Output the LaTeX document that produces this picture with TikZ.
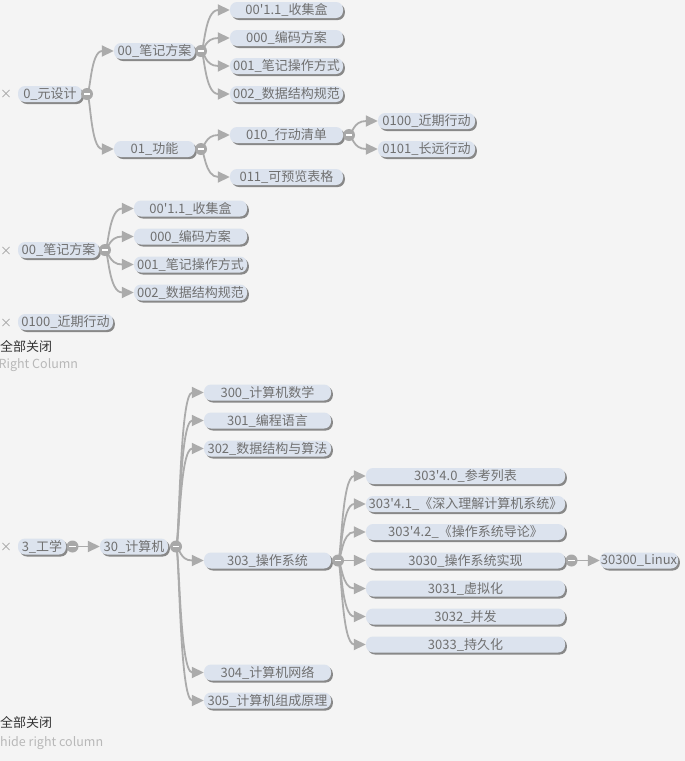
\documentclass[tikz,border=0pt]{standalone}
\usepackage{fontspec}
\setmainfont{Noto Sans CJK SC}
\usetikzlibrary{arrows.meta,shadows,calc}
\definecolor{bgc}{HTML}{F4F4F4}
\definecolor{boxc}{HTML}{DCE3EE}
\definecolor{shc}{HTML}{888888}
\definecolor{txc}{HTML}{707070}
\definecolor{lnc}{HTML}{ABABAB}
\definecolor{crc}{HTML}{A8A8A8}
\definecolor{xc}{HTML}{A0A0A0}
\definecolor{hc}{HTML}{333333}
\definecolor{lc}{HTML}{B8B8B8}
\newcommand\bx[5]{\node[topicbox, minimum width=#4pt] (#1) at (#2,#3) {#5};}
\newcommand\knob[1]{\node[knobc] at (#1) {}; \draw[white, line width=1.8pt] ($(#1)+(-3.2pt,0)$) -- ($(#1)+(3.2pt,0)$);}
\newcommand\cn[2]{\draw[connline] let \p1=(#1), \p2=(#2.west) in (\p1) .. controls (\x1+3.5pt,\y1) and (\x1+3.5pt,\y2) .. (\p2);}
\newcommand\q{\textquotesingle}
\begin{document}
\begin{tikzpicture}[x=1pt,y=-1pt,
  topicbox/.style={fill=boxc, rounded corners=7pt, minimum height=16pt, inner sep=0pt,
    text=txc, font=\fontsize{13}{15}\selectfont,
    drop shadow={shadow xshift=1.8pt, shadow yshift=-2pt, fill=shc, opacity=1}},
  connline/.style={draw=lnc, line width=1.8pt, -{Triangle[length=12pt,width=11pt]}},
  knobc/.style={circle, fill=crc, minimum size=12pt, inner sep=0pt},
  xmark/.style={text=xc, font=\fontsize{12}{14}\selectfont},
  head/.style={text=hc, font=\fontsize{13}{15}\selectfont, anchor=west, inner sep=0pt},
  sub/.style={text=lc, font=\fontsize{12.5}{15}\selectfont, anchor=west, inner sep=0pt}]
\useasboundingbox[fill=bgc] (0,0) rectangle (685,761);

% ---------- tree 1 ----------
\node[xmark] (x1) at (6,94) {×};
\bx{a0}{50}{94}{64}{0\_元设计}
\bx{a00}{154.5}{51}{81}{00\_笔记方案}
\bx{a01}{154.5}{149}{81}{01\_功能}
\bx{a001}{286.5}{10}{113}{00\q1.1\_收集盒}
\bx{a000}{286.5}{38}{113}{000\_编码方案}
\bx{a0011}{286.5}{66}{113}{001\_笔记操作方式}
\bx{a002}{286.5}{94}{113}{002\_数据结构规范}
\bx{a010}{286.5}{135}{113}{010\_行动清单}
\bx{a011}{286.5}{177}{113}{011\_可预览表格}
\bx{a0100}{426.5}{121}{97}{0100\_近期行动}
\bx{a0101}{426.5}{149}{97}{0101\_长远行动}
\coordinate (k0) at (87,94);
\coordinate (k00) at (201,51);
\coordinate (k01) at (201,149);
\coordinate (k010) at (349,135);
\cn{k0}{a00} \cn{k0}{a01}
\cn{k00}{a001} \cn{k00}{a000} \cn{k00}{a0011} \cn{k00}{a002}
\cn{k01}{a010} \cn{k01}{a011}
\cn{k010}{a0100} \cn{k010}{a0101}
\knob{k0} \knob{k00} \knob{k01} \knob{k010}

% ---------- tree 2 ----------
\node[xmark] (x2) at (6,251) {×};
\bx{b00}{58.5}{250}{81}{00\_笔记方案}
\bx{b001}{190.5}{208.5}{113}{00\q1.1\_收集盒}
\bx{b000}{190.5}{236.5}{113}{000\_编码方案}
\bx{b0011}{190.5}{264.5}{113}{001\_笔记操作方式}
\bx{b002}{190.5}{292.5}{113}{002\_数据结构规范}
\coordinate (k2) at (105,250);
\cn{k2}{b001} \cn{k2}{b000} \cn{k2}{b0011} \cn{k2}{b002}
\knob{k2}

% ---------- tree 3 ----------
\node[xmark] (x3) at (6,323) {×};
\bx{c0100}{65.5}{322}{95}{0100\_近期行动}
\node[head] (h1) at (0,346) {全部关闭};
\node[sub] (s1) at (-1.5,365.5) {Right Column};

% ---------- tree 4 ----------
\node[xmark] (x4) at (6,547) {×};
\bx{d3}{42}{546.5}{48}{3\_工学}
\bx{d30}{134}{546.5}{68}{30\_计算机}
\bx{d300}{267.5}{392.5}{127}{300\_计算机数学}
\bx{d301}{267.5}{420.5}{127}{301\_编程语言}
\bx{d302}{267.5}{448.5}{127}{302\_数据结构与算法}
\bx{d303}{267.5}{560.5}{127}{303\_操作系统}
\bx{d304}{267.5}{672.5}{127}{304\_计算机网络}
\bx{d305}{267.5}{700.5}{127}{305\_计算机组成原理}
\bx{e40}{465.5}{476}{199}{303\q4.0\_参考列表}
\bx{e41}{465.5}{504}{199}{303\q4.1\_《深入理解计算机系统》}
\bx{e42}{465.5}{532}{199}{303\q4.2\_《操作系统导论》}
\bx{e3030}{465.5}{560.5}{199}{3030\_操作系统实现}
\bx{e3031}{465.5}{588.5}{199}{3031\_虚拟化}
\bx{e3032}{465.5}{616.5}{199}{3032\_并发}
\bx{e3033}{465.5}{644.5}{199}{3033\_持久化}
\bx{f30300}{639}{560.5}{78}{30300\_Linux}
\coordinate (k3) at (72.5,546.5);
\coordinate (k30) at (176,546.5);
\coordinate (k303) at (338,560.5);
\coordinate (k3030) at (571.5,560.5);
\cn{k3}{d30}
\cn{k30}{d300} \cn{k30}{d301} \cn{k30}{d302} \cn{k30}{d303} \cn{k30}{d304} \cn{k30}{d305}
\cn{k303}{e40} \cn{k303}{e41} \cn{k303}{e42} \cn{k303}{e3030} \cn{k303}{e3031} \cn{k303}{e3032} \cn{k303}{e3033}
\cn{k3030}{f30300}
\knob{k3} \knob{k30} \knob{k303} \knob{k3030}
\node[head] (h2) at (0,722) {全部关闭};
\node[sub] (s2) at (0,743) {hide right column};
\end{tikzpicture}
\end{document}
